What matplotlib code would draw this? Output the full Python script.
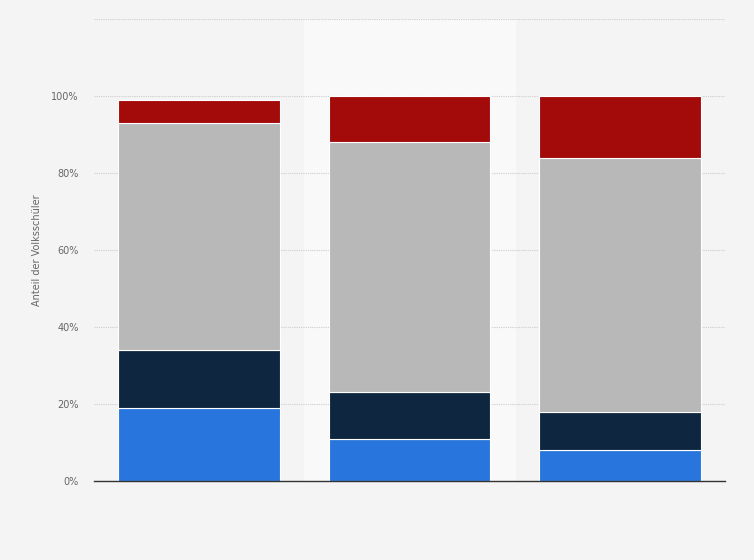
import matplotlib.pyplot as plt
import numpy as np

categories = ["1", "2", "3"]
blue = [19, 11, 8]
navy = [15, 12, 10]
gray = [59, 65, 66]
red = [6, 12, 16]

series = [blue, navy, gray, red]
colors = ["#2876dd", "#0f2640", "#b8b8b8", "#a30a0a"]

fig = plt.figure(figsize=(7.54, 5.6), dpi=100)
fig.patch.set_facecolor("#f4f4f4")
ax = fig.add_axes([94 / 754, 79 / 560, 631 / 754, 462 / 560])
ax.set_facecolor("#f4f4f4")

x = np.arange(len(categories))
ax.axvspan(0.5, 1.5, color="#f9f9f9", zorder=0)

bottom = np.zeros(len(categories))
for vals, c in zip(series, colors):
    ax.bar(x, vals, width=0.77, bottom=bottom, color=c,
           edgecolor="white", linewidth=0.8, zorder=3)
    bottom += np.array(vals)

ax.set_xlim(-0.5, 2.5)
ax.set_ylim(0, 120)
ax.set_yticks(range(0, 121, 20))
ax.set_yticklabels([f"{v}%" for v in range(0, 101, 20)] + [""])
ax.set_xticks([])
ax.yaxis.grid(True, linestyle=(0, (1, 1)), color="#cccccc", linewidth=0.8, zorder=1)
for s in ["top", "right", "left"]:
    ax.spines[s].set_visible(False)
ax.spines["bottom"].set_color("#333333")
ax.spines["bottom"].set_linewidth(1)
ax.spines["bottom"].set_zorder(4)
ax.tick_params(axis="y", length=0, labelsize=7, labelcolor="#666666", pad=11)
ax.set_ylabel("Anteil der Volksschüler", fontsize=7, color="#666666")
ax.yaxis.set_label_coords(-0.083, 0.5)

fig.savefig("out.png", dpi=100, facecolor=fig.get_facecolor())
